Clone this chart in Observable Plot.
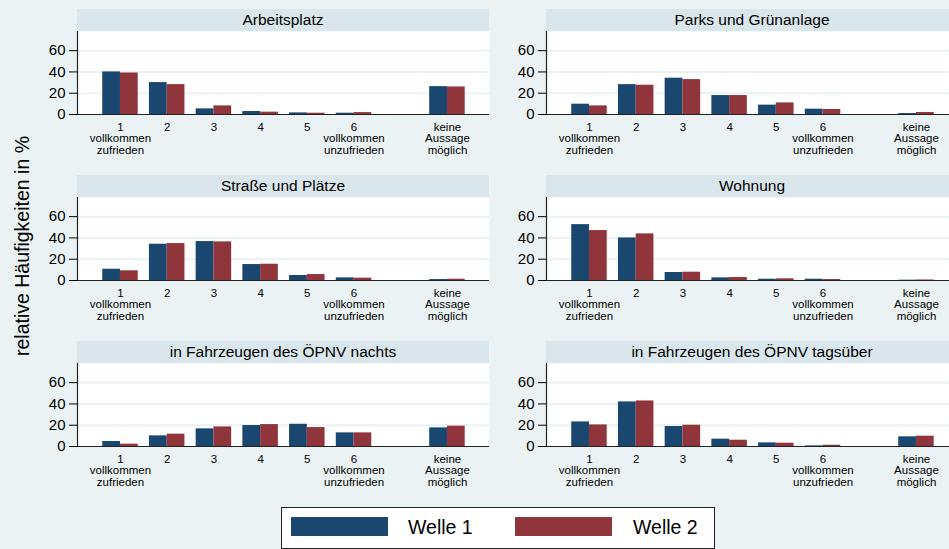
<!DOCTYPE html>
<html>
<head>
<meta charset="utf-8">
<script src="https://cdn.jsdelivr.net/npm/d3@7"></script>
<script src="https://cdn.jsdelivr.net/npm/@observablehq/plot@0.6"></script>
<style>
  html, body { margin: 0; padding: 0; }
  body { width: 949px; height: 549px; overflow: hidden; background: #eaf2f3; position: relative;
         font-family: "Liberation Sans", Arial, sans-serif; color: #000; }
  .panel { position: absolute; width: 459px; }
  .header { margin-left: 47px; width: 412px; height: 22px; line-height: 22px; background: #d9e6eb;
            text-align: center; font-size: 15.5px; white-space: nowrap; }
  .panel svg { display: block; overflow: visible; background: transparent; }
  #ytitle { position: absolute; left: 22px; top: 246px; transform: translate(-50%, -50%) rotate(-90deg);
            font-size: 19.5px; white-space: nowrap; }
  #legend { position: absolute; left: 281px; top: 507px; width: 432px; height: 40px; background: #fff;
            border: 1px solid #222; }
  .sw { position: absolute; top: 9px; width: 97px; height: 19px; }
  .lt { position: absolute; top: 8px; font-size: 19.5px; line-height: 22px; }
</style>
</head>
<body>
<div id="ytitle"></div>
<div id="legend"></div>
<script>
// ---- data ----
const categories = ["1\nvollkommen\nzufrieden", "2", "3", "4", "5", "6\nvollkommen\nunzufrieden", "keine\nAussage\nmöglich"];
const categoryPositions = [1, 2, 3, 4, 5, 6, 8];
const seriesNames = ["Welle 1", "Welle 2"];
const seriesColors = ["#1a476f", "#90353b"];
const panelTitles = ["Arbeitsplatz", "Parks und Grünanlage", "Straße und Plätze", "Wohnung",
                     "in Fahrzeugen des ÖPNV nachts", "in Fahrzeugen des ÖPNV tagsüber"];
const yTicks = [0, 20, 40, 60];
const yTitle = "relative Häufigkeiten in %";

const arbeitsplatzW1 = [40.0, 30.0, 5.3, 2.8, 1.5, 1.2, 26.2];
const arbeitsplatzW2 = [39.0, 28.1, 8.1, 2.2, 1.2, 1.8, 25.9];
const parksW1 = [9.7, 28.1, 34.1, 17.8, 8.8, 5.0, 0.9];
const parksW2 = [8.1, 27.5, 32.8, 17.8, 10.9, 4.7, 1.9];
const strasseW1 = [10.6, 34.1, 36.6, 15.0, 4.7, 2.5, 0.9];
const strasseW2 = [9.1, 34.7, 36.3, 15.3, 5.6, 2.2, 1.2];
const wohnungW1 = [52.5, 40.0, 7.5, 2.5, 1.2, 1.2, 0.3];
const wohnungW2 = [46.9, 43.8, 7.8, 2.8, 1.6, 0.9, 0.5];
const nachtsW1 = [4.7, 10.0, 16.6, 19.7, 20.9, 12.8, 17.5];
const nachtsW2 = [2.2, 11.6, 18.4, 20.6, 17.8, 12.8, 19.1];
const tagsW1 = [23.1, 41.9, 18.8, 6.9, 3.4, 0.6, 9.1];
const tagsW2 = [20.3, 42.8, 20.0, 5.9, 3.1, 1.2, 9.7];

const panelSeries = [
  [arbeitsplatzW1, arbeitsplatzW2],
  [parksW1, parksW2],
  [strasseW1, strasseW2],
  [wohnungW1, wohnungW2],
  [nachtsW1, nachtsW2],
  [tagsW1, tagsW2]
];

// ---- layout ----
const colLeft = [30, 499];
const rowTop = [9, 175, 341];
const xDomain = [0.08, 8.9];
const yDomain = [0, 78];
const barHalf = 0.38;

panelTitles.forEach((title, p) => {
  const rows = [];
  panelSeries[p].forEach((vals, s) => {
    vals.forEach((v, i) => {
      rows.push({series: seriesNames[s], s, pos: categoryPositions[i], value: v});
    });
  });
  const div = document.createElement("div");
  div.className = "panel";
  div.style.left = colLeft[p % 2] + "px";
  div.style.top = rowTop[Math.floor(p / 2)] + "px";
  const h = document.createElement("div");
  h.className = "header";
  h.textContent = title;
  div.appendChild(h);

  const chart = Plot.plot({
    width: 459,
    height: 125,
    marginTop: 0,
    marginBottom: 42,
    marginLeft: 47,
    marginRight: 0,
    style: {background: "transparent", fontFamily: "'Liberation Sans', Arial, sans-serif", color: "#000", overflow: "visible"},
    x: {type: "linear", domain: xDomain, label: null},
    y: {domain: yDomain, label: null},
    color: {domain: seriesNames, range: seriesColors},
    marks: [
      Plot.frame({fill: "white", stroke: "none"}),
      Plot.gridY(yTicks.filter(t => t > 0), {stroke: "#eaf2f3", strokeOpacity: 1, strokeWidth: 2}),
      Plot.rectY(rows, {
        x1: d => d.pos - barHalf + d.s * barHalf,
        x2: d => d.pos + d.s * barHalf,
        y1: 0,
        y2: "value",
        fill: "series"
      }),
      Plot.ruleY([0], {stroke: "#222", strokeWidth: 1.2}),
      Plot.ruleX([xDomain[0]], {stroke: "#222", strokeWidth: 1.2}),
      Plot.axisY({ticks: yTicks, tickSize: 8, tickPadding: 4, fontSize: 15, label: null}),
      Plot.axisX({ticks: categoryPositions, tickSize: 0, tickPadding: 8, fontSize: 11.5, lineHeight: 1,
                  tickFormat: d => categories[categoryPositions.indexOf(d)], label: null})
    ]
  });
  div.appendChild(chart);
  document.body.appendChild(div);
});

document.getElementById("ytitle").textContent = yTitle;

const legend = document.getElementById("legend");
const swLeft = [9, 233];
const txLeft = [126, 351];
seriesNames.forEach((name, i) => {
  const sw = document.createElement("div");
  sw.className = "sw";
  sw.style.left = swLeft[i] + "px";
  sw.style.background = seriesColors[i];
  legend.appendChild(sw);
  const t = document.createElement("div");
  t.className = "lt";
  t.style.left = txLeft[i] + "px";
  t.textContent = name;
  legend.appendChild(t);
});
</script>
</body>
</html>
